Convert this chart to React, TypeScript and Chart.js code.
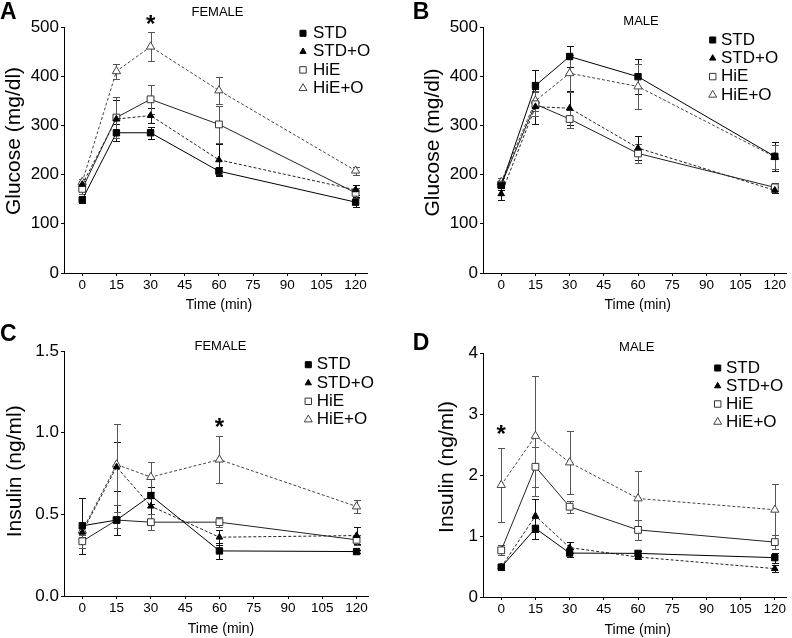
import React, { useEffect, useRef } from "react";
import { Chart, registerables } from "chart.js";

Chart.register(...registerables);

const FONT = '"Liberation Sans", Arial, Helvetica, sans-serif';

const TIME = [0, 15, 30, 60, 120];
const X_TICKS = [0, 15, 30, 45, 60, 75, 90, 105, 120];
const GROUPS = ["STD", "STD+O", "HiE", "HiE+O"];

// A: Glucose, female
const gluFemaleSTD = [149, 285, 285, 207, 144];
const gluFemaleSTDO = [180, 313, 320, 230, 169];
const gluFemaleHiE = [171, 316, 353, 302, 163];
const gluFemaleHiEO = [185, 410, 460, 371, 208];
const gluFemaleSTDErr = [7, 17, 12, 8, 10];
const gluFemaleSTDOErr = [8, 38, 15, 33, 10];
const gluFemaleHiEErr = [10, 42, 29, 37, 10];
const gluFemaleHiEOErr = [6, 15, 29, 28, 8];

// B: Glucose, male
const gluMaleSTD = [178, 381, 440, 399, 237];
const gluMaleSTDO = [161, 338, 335, 254, 168];
const gluMaleHiE = [180, 343, 313, 243, 174];
const gluMaleHiEO = [185, 350, 406, 379, 236];
const gluMaleSTDErr = [10, 31, 22, 35, 29];
const gluMaleSTDOErr = [12, 36, 34, 25, 6];
const gluMaleHiEErr = [8, 24, 18, 19, 8];
const gluMaleHiEOErr = [8, 20, 38, 45, 25];

// C: Insulin, female
const insFemaleSTD = [0.43, 0.465, 0.615, 0.276, 0.272];
const insFemaleSTDO = [0.39, 0.79, 0.55, 0.36, 0.37];
const insFemaleHiE = [0.335, 0.465, 0.452, 0.452, 0.344];
const insFemaleHiEO = [0.4, 0.805, 0.728, 0.835, 0.548];
const insFemaleSTDErr = [0.17, 0.09, 0.05, 0.05, 0.01];
const insFemaleSTDOErr = [0.05, 0.15, 0.05, 0.045, 0.05];
const insFemaleHiEErr = [0.04, 0.05, 0.05, 0.03, 0.03];
const insFemaleHiEOErr = [0.04, 0.25, 0.09, 0.145, 0.04];

// D: Insulin, male
const insMaleSTD = [0.49, 1.125, 0.72, 0.715, 0.645];
const insMaleSTDO = [0.49, 1.33, 0.81, 0.655, 0.465];
const insMaleHiE = [0.765, 2.135, 1.48, 1.1, 0.9];
const insMaleHiEO = [1.835, 2.64, 2.205, 1.615, 1.43];
const insMaleSTDErr = [0.04, 0.17, 0.06, 0.04, 0.08];
const insMaleSTDOErr = [0.04, 0.27, 0.09, 0.03, 0.06];
const insMaleHiEErr = [0.08, 0.33, 0.1, 0.16, 0.12];
const insMaleHiEOErr = [0.61, 0.98, 0.52, 0.45, 0.42];

const STYLES = [
  { line: "#000", dash: [] as number[], fill: "#000", border: "#000", shape: "rect", r: 4.5, err: "#111" },
  { line: "#222", dash: [3, 2], fill: "#000", border: "#000", shape: "triangle", r: 3.8, err: "#111" },
  { line: "#222", dash: [] as number[], fill: "#fff", border: "#333", shape: "rect", r: 4.8, err: "#555" },
  { line: "#444", dash: [3, 2], fill: "#fff", border: "#444", shape: "triangle", r: 4.8, err: "#555" },
];

type PanelCfg = {
  left: number; top: number; w: number; h: number;
  padTop: number; padRight: number; yw: number; xh: number;
  yMin: number; yMax: number; yStep: number; decimals: number;
  series: number[][]; errors: number[][];
  letter: { t: string; x: number; y: number };
  title: { t: string; x: number; y: number };
  yTitle: { t: string; x: number; y: number };
  xTitle: { t: string; x: number; y: number };
  legend: { mx: number; tx: number; y0: number; dy: number };
  star: { t: number; v: number } | null;
};

const PANELS: PanelCfg[] = [
  {
    left: 0, top: 0, w: 396, h: 318, padTop: 27, padRight: 29, yw: 64, xh: 45,
    yMin: 0, yMax: 500, yStep: 100, decimals: 0,
    series: [gluFemaleSTD, gluFemaleSTDO, gluFemaleHiE, gluFemaleHiEO],
    errors: [gluFemaleSTDErr, gluFemaleSTDOErr, gluFemaleHiEErr, gluFemaleHiEOErr],
    letter: { t: "A", x: 0, y: 18.5 },
    title: { t: "FEMALE", x: 217.5, y: 15.7 },
    yTitle: { t: "Glucose (mg/dl)", x: 19.5, y: 141 },
    xTitle: { t: "Time (min)", x: 219, y: 309 },
    legend: { mx: 303, tx: 313, y0: 33.3, dy: 18.3 },
    star: { t: 30, v: 518 },
  },
  {
    left: 396, top: 0, w: 396, h: 318, padTop: 27, padRight: 3, yw: 87, xh: 45,
    yMin: 0, yMax: 500, yStep: 100, decimals: 0,
    series: [gluMaleSTD, gluMaleSTDO, gluMaleHiE, gluMaleHiEO],
    errors: [gluMaleSTDErr, gluMaleSTDOErr, gluMaleHiEErr, gluMaleHiEOErr],
    letter: { t: "B", x: 16.7, y: 18.5 },
    title: { t: "MALE", x: 245, y: 25 },
    yTitle: { t: "Glucose (mg/dl)", x: 42.5, y: 142.5 },
    xTitle: { t: "Time (min)", x: 241.7, y: 309 },
    legend: { mx: 316.7, tx: 325, y0: 40, dy: 18.3 },
    star: null,
  },
  {
    left: 0, top: 318, w: 396, h: 320, padTop: 33, padRight: 28, yw: 64, xh: 42,
    yMin: 0, yMax: 1.5, yStep: 0.5, decimals: 1,
    series: [insFemaleSTD, insFemaleSTDO, insFemaleHiE, insFemaleHiEO],
    errors: [insFemaleSTDErr, insFemaleSTDOErr, insFemaleHiEErr, insFemaleHiEOErr],
    letter: { t: "C", x: 0, y: 22.7 },
    title: { t: "FEMALE", x: 220.5, y: 32.3 },
    yTitle: { t: "Insulin (ng/ml)", x: 20.6, y: 153.3 },
    xTitle: { t: "Time (min)", x: 221, y: 315.4 },
    legend: { mx: 308.3, tx: 316.7, y0: 46.7, dy: 18.3 },
    star: { t: 60, v: 1.073 },
  },
  {
    left: 396, top: 318, w: 396, h: 320, padTop: 35, padRight: 3, yw: 87, xh: 41,
    yMin: 0, yMax: 4, yStep: 1, decimals: 0,
    series: [insMaleSTD, insMaleSTDO, insMaleHiE, insMaleHiEO],
    errors: [insMaleSTDErr, insMaleSTDOErr, insMaleHiEErr, insMaleHiEOErr],
    letter: { t: "D", x: 16.7, y: 31.7 },
    title: { t: "MALE", x: 240.8, y: 32.7 },
    yTitle: { t: "Insulin (ng/ml)", x: 57, y: 149 },
    xTitle: { t: "Time (min)", x: 241.7, y: 316.4 },
    legend: { mx: 321.7, tx: 330, y0: 50, dy: 18 },
    star: { t: 0, v: 2.766 },
  },
];

function drawMarker(ctx: CanvasRenderingContext2D, shape: string, x: number, y: number, r: number, fill: string, stroke: string) {
  ctx.beginPath();
  if (shape === "rect") {
    const s = r * Math.SQRT1_2;
    ctx.rect(x - s, y - s, 2 * s, 2 * s);
  } else {
    ctx.moveTo(x, y - r);
    ctx.lineTo(x + r * 0.866, y + r * 0.5);
    ctx.lineTo(x - r * 0.866, y + r * 0.5);
    ctx.closePath();
  }
  ctx.fillStyle = fill;
  ctx.fill();
  ctx.lineWidth = 1;
  ctx.strokeStyle = stroke;
  ctx.stroke();
}

function Panel({ cfg }: { cfg: PanelCfg }) {
  const ref = useRef<HTMLCanvasElement>(null);
  useEffect(() => {
    const errPlugin = {
      id: "errbars",
      beforeDatasetsDraw(chart: any) {
        const ctx = chart.ctx as CanvasRenderingContext2D;
        const xs = chart.scales.x;
        const ys = chart.scales.y;
        ctx.save();
        ctx.lineWidth = 1;
        ctx.setLineDash([]);
        cfg.series.forEach((vals, i) => {
          ctx.strokeStyle = STYLES[i].err;
          vals.forEach((v, j) => {
            const e = cfg.errors[i][j];
            const x = Math.round(xs.getPixelForValue(TIME[j])) + 0.5;
            const y1 = Math.round(ys.getPixelForValue(v + e)) + 0.5;
            const y2 = Math.round(ys.getPixelForValue(v - e)) + 0.5;
            ctx.beginPath();
            ctx.moveTo(x, y1);
            ctx.lineTo(x, y2);
            ctx.moveTo(x - 3.5, y1);
            ctx.lineTo(x + 3.5, y1);
            ctx.moveTo(x - 3.5, y2);
            ctx.lineTo(x + 3.5, y2);
            ctx.stroke();
          });
        });
        ctx.restore();
      },
    };
    const decorPlugin = {
      id: "decor",
      afterDraw(chart: any) {
        const ctx = chart.ctx as CanvasRenderingContext2D;
        ctx.save();
        ctx.fillStyle = "#000";
        ctx.font = `bold 23px ${FONT}`;
        ctx.textAlign = "left";
        ctx.textBaseline = "alphabetic";
        ctx.fillText(cfg.letter.t, cfg.letter.x, cfg.letter.y);
        ctx.font = `13px ${FONT}`;
        ctx.textAlign = "center";
        ctx.fillText(cfg.title.t, cfg.title.x, cfg.title.y);
        ctx.font = `14px ${FONT}`;
        ctx.fillText(cfg.xTitle.t, cfg.xTitle.x, cfg.xTitle.y);
        ctx.save();
        ctx.translate(cfg.yTitle.x, cfg.yTitle.y);
        ctx.rotate(-Math.PI / 2);
        ctx.font = `21px ${FONT}`;
        ctx.textAlign = "center";
        ctx.fillText(cfg.yTitle.t, 0, 0);
        ctx.restore();
        GROUPS.forEach((g, i) => {
          const y = cfg.legend.y0 + i * cfg.legend.dy;
          const st = STYLES[i];
          drawMarker(ctx, st.shape, cfg.legend.mx, y, st.r * 0.95, st.fill, st.border);
          ctx.fillStyle = "#000";
          ctx.font = `17px ${FONT}`;
          ctx.textAlign = "left";
          ctx.textBaseline = "middle";
          ctx.fillText(g, cfg.legend.tx, y);
        });
        if (cfg.star) {
          const x = chart.scales.x.getPixelForValue(cfg.star.t);
          const y = chart.scales.y.getPixelForValue(cfg.star.v);
          ctx.font = `bold 24px ${FONT}`;
          ctx.textAlign = "center";
          ctx.textBaseline = "alphabetic";
          ctx.fillText("*", x, y + 13.8);
        }
        ctx.restore();
      },
    };

    const datasets = cfg.series.map((vals, i) => {
      const st = STYLES[i];
      return {
        label: GROUPS[i],
        data: TIME.map((t, j) => ({ x: t, y: vals[j] })),
        borderColor: st.line,
        borderWidth: 1,
        borderDash: st.dash,
        backgroundColor: st.fill,
        pointStyle: st.shape,
        pointRadius: st.r,
        pointBorderWidth: 1,
        pointBorderColor: st.border,
        pointBackgroundColor: st.fill,
        tension: 0,
        fill: false,
      };
    });

    const chart = new Chart(ref.current as HTMLCanvasElement, {
      type: "line",
      data: { datasets: datasets as any },
      options: {
        animation: false,
        responsive: false,
        events: [],
        layout: { padding: { left: 0, top: cfg.padTop, right: cfg.padRight, bottom: 0 } },
        plugins: { legend: { display: false }, tooltip: { enabled: false }, title: { display: false } },
        scales: {
          x: {
            type: "linear",
            min: -8,
            max: 125,
            afterBuildTicks: (ax: any) => {
              ax.ticks = X_TICKS.map((v) => ({ value: v }));
            },
            afterFit: (s: any) => {
              s.height = cfg.xh;
            },
            grid: { drawOnChartArea: false, drawTicks: true, tickLength: 3, color: "#000" },
            border: { display: true, color: "#000", width: 1 },
            ticks: { font: { family: FONT, size: 13.5 }, color: "#000", padding: 1, maxRotation: 0, autoSkip: false },
          },
          y: {
            type: "linear",
            min: cfg.yMin,
            max: cfg.yMax,
            afterFit: (s: any) => {
              s.width = cfg.yw;
            },
            grid: { drawOnChartArea: false, drawTicks: true, tickLength: 3, color: "#000" },
            border: { display: true, color: "#000", width: 1 },
            ticks: {
              stepSize: cfg.yStep,
              font: { family: FONT, size: 17 },
              color: "#000",
              padding: 2,
              callback: (v: any) => Number(v).toFixed(cfg.decimals),
            },
          },
        },
      },
      plugins: [errPlugin, decorPlugin],
    } as any);
    return () => chart.destroy();
  }, []);
  return (
    <canvas
      ref={ref}
      width={cfg.w}
      height={cfg.h}
      style={{ position: "absolute", left: cfg.left, top: cfg.top, width: cfg.w, height: cfg.h }}
    />
  );
}

export default function App() {
  return (
    <div style={{ position: "absolute", left: 0, top: 0, width: 792, height: 638, background: "#fff" }}>
      {PANELS.map((p, i) => (
        <Panel key={i} cfg={p} />
      ))}
    </div>
  );
}
